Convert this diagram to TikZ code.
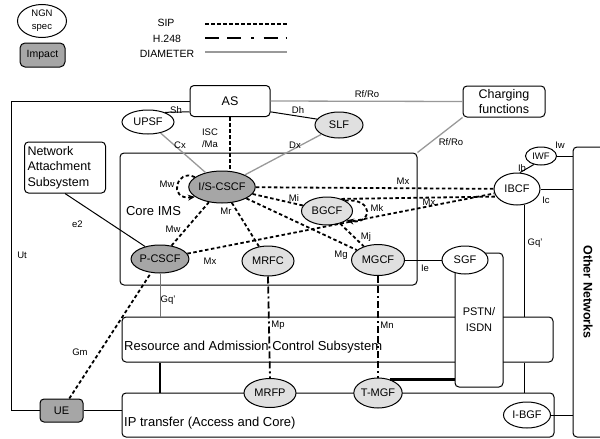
\documentclass[tikz,border=0pt]{standalone}
\usepackage{fontspec}
\setmainfont{Liberation Sans}
\usetikzlibrary{shapes.geometric, arrows.meta, calc}

\begin{document}
\begin{tikzpicture}[x=1pt, y=-1pt,
    caja/.style={draw, rounded corners=4pt, fill=white, line width=1pt, inner sep=3pt},
    elipse/.style={ellipse, draw, fill=white, line width=1pt, inner sep=0pt, font=\fontsize{11}{13}\selectfont},
    oscuro/.style={fill=black!35},
    claro/.style={fill=black!12},
    textocaja/.style={font=\fontsize{13}{15.5}\selectfont, inner sep=0pt},
    etiq/.style={font=\fontsize{9.5}{11}\selectfont, inner sep=0pt},
    leyenda/.style={font=\fontsize{10.5}{12}\selectfont, inner sep=0pt},
    sip/.style={line width=1.8pt, dash pattern=on 3.5pt off 2.5pt},
    hdos/.style={line width=1.8pt, dash pattern=on 7pt off 3pt on 7pt off 3pt on 2pt off 3pt},
    diam/.style={line width=1.3pt, black!40},
    enlace/.style={line width=1pt}]

    % Limites del dibujo
    \useasboundingbox (0,0) rectangle (600,439);

    % Leyenda
    \node[elipse, minimum width=49, minimum height=33, align=center, font=\fontsize{9.5}{13}\selectfont] (ngn) at (42,21) {NGN\\spec};
    \node[caja, oscuro, rounded corners=5pt, minimum width=45, minimum height=24, font=\fontsize{10.5}{12}\selectfont] (impact) at (42.5,55) {Impact};
    \node[leyenda] (legSip) at (166,23) {SIP};
    \node[leyenda] (legH) at (167,39) {H.248};
    \node[leyenda] (legDiam) at (167,54) {DIAMETER};
    \coordinate (sipA) at (205,24);
    \coordinate (sipB) at (287,24);
    \coordinate (hA) at (205,38);
    \coordinate (hB) at (287,38);
    \coordinate (diamA) at (205,52);
    \coordinate (diamB) at (287,52);
    \draw[sip] (sipA) -- (sipB);
    \draw[hdos, dash pattern=on 14pt off 8pt on 14pt off 10pt on 2.5pt off 10pt] (hA) -- (hB);
    \draw[diam] (diamA) -- (diamB);

    % Cajas grandes
    \node[caja, minimum width=297, minimum height=132] (ims) at (268.5,219) {};
    \node[textocaja] (imsTxt) at (153.5,211) {Core IMS};
    \node[caja, text width=75, align=left, minimum height=51, font=\fontsize{12.5}{15.5}\selectfont] (nas) at (65,167.5) {Network\\Attachment\\Subsystem};
    \node[caja, minimum width=80, minimum height=31, font=\fontsize{12.5}{15}\selectfont] (as) at (230,101) {AS};
    \node[caja, minimum width=82, minimum height=31, align=center, font=\fontsize{12.5}{15}\selectfont] (charging) at (504,101.5) {Charging\\functions};
    \node[caja, minimum width=37, minimum height=290] (other) at (591.5,292) {};
    \node[font=\fontsize{12.5}{15}\selectfont\bfseries, rotate=-90, inner sep=0pt] (otherTxt) at (588,292) {Other Networks};

    % Funciones del nucleo IMS
    \node[elipse, minimum width=52, minimum height=24] (upsf) at (148,122) {UPSF};
    \node[elipse, claro, minimum width=48, minimum height=26] (slf) at (339,125) {SLF};
    \node[elipse, oscuro, minimum width=61, minimum height=32] (iscscf) at (222,187) {I/S-CSCF};
    \node[elipse, oscuro, minimum width=54, minimum height=28] (pcscf) at (160,259) {P-CSCF};
    \node[elipse, claro, minimum width=52, minimum height=30] (mrfc) at (268,261) {MRFC};
    \node[elipse, claro, minimum width=51, minimum height=28] (bgcf) at (327,211) {BGCF};
    \node[elipse, claro, minimum width=53, minimum height=31] (mgcf) at (378,260) {MGCF};
    \node[elipse, minimum width=46, minimum height=32] (ibcf) at (517,189) {IBCF};
    \node[elipse, minimum width=31, minimum height=18, font=\fontsize{9.5}{11}\selectfont] (iwf) at (541,156) {IWF};

    % RACS, PSTN y transporte IP
    \node[caja, minimum width=431, minimum height=45] (racs) at (337.5,339.5) {};
    \node[textocaja, anchor=west] (racsTxt) at (124,347) {Resource and Admission Control Subsystem};
    \node[caja, minimum width=48, minimum height=134, align=center, font=\fontsize{11}{16}\selectfont] (pstn) at (479,320) {PSTN/\\ISDN};
    \node[elipse, minimum width=46, minimum height=28] (sgf) at (465,260) {SGF};
    \node[caja, minimum width=432, minimum height=44] (ip) at (338,415) {};
    \node[textocaja, anchor=west] (ipTxt) at (124,423) {IP transfer (Access and Core)};
    \node[elipse, claro, minimum width=52, minimum height=29] (mrfp) at (270,393) {MRFP};
    \node[elipse, claro, minimum width=46, minimum height=30] (tmgf) at (378,393) {T-MGF};
    \node[elipse, minimum width=47, minimum height=26] (ibgf) at (527,415) {I-BGF};
    \node[caja, oscuro, minimum width=43, minimum height=23, font=\fontsize{11}{13}\selectfont] (ue) at (61.5,410.5) {UE};

    % Enlaces solidos
    \draw[enlace] (as.west) -- ++(-178,0) |- (ue.west);
    \draw[enlace] (ue.east) -- (ue.east -| ip.west);
    \draw[enlace] (upsf.30) -- (as.195);
    \draw[enlace] (as.-15) -- (slf.165);
    \draw[enlace] (nas.south) -- (pcscf.140);
    \draw[enlace] (mgcf) -- (sgf);
    \draw[enlace] (ibcf.80) -- (iwf.-130);
    \draw[enlace] (iwf.east) -- (iwf.east -| other.west);
    \draw[enlace] (ibcf.east) -- (ibcf.east -| other.west);
    \draw[enlace] (ibgf.east) -- (ibgf.east -| other.west);
    \draw[enlace] (ibcf.-65) -- (ibcf.-65 |- racs.north);
    \draw[enlace] (ibcf.-65 |- racs.south) -- (ibcf.-65 |- ip.north);
    \draw[line width=1.8pt] (pcscf.south |- racs.south) -- (pcscf.south |- ip.north);
    \draw[line width=2.5pt] (tmgf.50) -- (tmgf.50 -| pstn.west);
    \draw[line width=.8pt, black!55] (pcscf.south) -- (pcscf.south |- racs.north);

    % Enlaces DIAMETER
    \draw[diam] (as.east) -- (charging.west);
    \draw[diam] (charging.south west) -- (ims.north east);
    \draw[diam] (upsf) -- (iscscf);
    \draw[diam] (slf) -- (iscscf);

    % Enlaces SIP
    \draw[sip] (as.south) -- (as.south |- iscscf.north);
    \draw[sip, -{Stealth[length=7pt, width=6pt]}] (iscscf.160) .. controls (176,168) and (168,200) .. (iscscf.200);
    \draw[sip] (pcscf) -- (iscscf);
    \draw[sip] (iscscf) -- (mrfc);
    \draw[sip] (iscscf) -- (ibcf);
    \draw[sip] (iscscf) -- (bgcf);
    \draw[sip] (iscscf) -- (mgcf);
    \draw[sip] (bgcf.40) -- (ibcf.200);
    \draw[sip, -{Stealth[length=7pt, width=6pt]}] (bgcf.30) .. controls (375,198) and (372,225) .. (bgcf.-25);
    \draw[sip] (bgcf) -- (mgcf);
    \draw[sip] (pcscf) -- (ibcf);
    \draw[sip] (ue) -- (pcscf);

    % Enlaces H.248
    \draw[hdos] (mrfc.south) -- (mrfp.north);
    \draw[hdos] (mgcf.south) -- (tmgf.north);

    % Nombres de las interfaces
    \node[etiq] (lSh) at (176,110) {Sh};
    \node[etiq] (lDh) at (298,110) {Dh};
    \node[etiq, align=left, font=\fontsize{9.5}{12.5}\selectfont] (lIsc) at (210,138) {ISC\\/Ma};
    \node[etiq] (lCx) at (180,145) {Cx};
    \node[etiq] (lDx) at (295,145) {Dx};
    \node[etiq] (lRf) at (367,94) {Rf/Ro};
    \node[etiq] (lRf2) at (451,142) {Rf/Ro};
    \node[etiq] (lMw) at (167,184) {Mw};
    \node[etiq] (lMw2) at (173,229) {Mw};
    \node[etiq] (lMr) at (226,211) {Mr};
    \node[etiq] (lMx) at (210,261) {Mx};
    \node[etiq] (le2) at (77.5,224.5) {e2};
    \node[etiq] (lUt) at (22,255) {Ut};
    \node[etiq] (lMi) at (294,198) {Mi};
    \node[etiq] (lMx2) at (403,181) {Mx};
    \node[etiq] (lMk) at (377,208) {Mk};
    \node[etiq] (lMx3) at (429,202) {Mx};
    \node[etiq] (lMj) at (366,237) {Mj};
    \node[etiq] (lMg) at (341,255) {Mg};
    \node[etiq] (lIe) at (425,268) {Ie};
    \node[etiq] (lIb) at (522,168) {Ib};
    \node[etiq] (lIw) at (560,145) {Iw};
    \node[etiq] (lIc) at (546,200) {Ic};
    \node[etiq] (lGq) at (535,243) {Gq'};
    \node[etiq] (lGq2) at (168,300) {Gq'};
    \node[etiq] (lGm) at (80,352) {Gm};
    \node[etiq] (lMp) at (278,325) {Mp};
    \node[etiq] (lMn) at (387,325) {Mn};

\end{tikzpicture}
\end{document}
